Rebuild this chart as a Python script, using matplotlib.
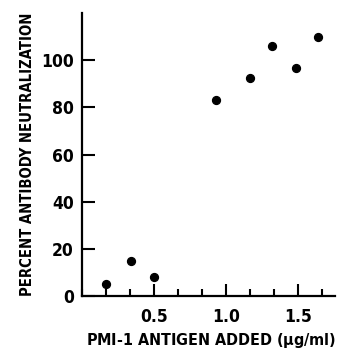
import matplotlib
matplotlib.use("Agg")
import matplotlib.pyplot as plt
from matplotlib import font_manager as fm
from matplotlib.ticker import MultipleLocator

# pick a narrow face if one is installed
fonts = fm.fontManager.ttflist
if any(f.name == 'Liberation Sans Narrow' for f in fonts):
    family, stretch = 'Liberation Sans Narrow', 'normal'
elif any(f.name == 'DejaVu Sans' and f.stretch == 'condensed' for f in fonts):
    family, stretch = 'DejaVu Sans', 'condensed'
else:
    family, stretch = 'DejaVu Sans', 'normal'
plt.rcParams['font.family'] = [family, 'DejaVu Sans']
plt.rcParams['font.stretch'] = stretch
plt.rcParams['font.weight'] = 'bold'
plt.rcParams['axes.labelweight'] = 'bold'
plt.rcParams['mathtext.default'] = 'regular'

# antigen added (ug/ml) vs percent antibody neutralization
antigen = [0.17, 0.34, 0.50, 0.93, 1.17, 1.32, 1.49, 1.64]
neutralization = [5, 15, 8, 83, 92.5, 106, 96.5, 110]

yticks = [0, 20, 40, 60, 80, 100]
xticks = [0.5, 1.0, 1.5]
xticklabels = ['0.5', '1.0', '1.5']

fig = plt.figure(figsize=(3.47, 3.5), dpi=100)
ax = fig.add_axes([82/347, 54/350, 253/347, 283/350])

ax.scatter(antigen, neutralization, s=32, color='black', zorder=3, clip_on=False)

ax.set_xlim(0, 1.76)
ax.set_ylim(0, 120)

for s in ['top', 'right']:
    ax.spines[s].set_visible(False)
for s in ['left', 'bottom']:
    ax.spines[s].set_linewidth(1.6)

ax.set_yticks(yticks)
ax.set_xticks(xticks)
ax.set_xticklabels(xticklabels)
ax.xaxis.set_minor_locator(MultipleLocator(1/6))
ax.tick_params(axis='both', which='major', direction='in', length=9, width=1.5,
               labelsize=12.5, pad=6)
ax.tick_params(axis='x', which='major', pad=9)
ax.tick_params(axis='x', which='minor', direction='in', length=5, width=1.5)

ylab = ax.set_ylabel('PERCENT ANTIBODY NEUTRALIZATION', fontsize=12, va='center')
ax.yaxis.set_label_coords(-0.215, 0.5)
xlab = ax.set_xlabel(r'PMI-1 ANTIGEN ADDED ($\mu$g/ml)', fontsize=12, va='center')
ax.xaxis.set_label_coords(0.51, -0.158)

# size the axis titles to the reference lengths
fig.canvas.draw()
r = fig.canvas.get_renderer()
bb = ylab.get_window_extent(r)
ylab.set_fontsize(min(13, ylab.get_fontsize() * 284 / bb.height))
bb = xlab.get_window_extent(r)
xlab.set_fontsize(min(13, xlab.get_fontsize() * 250 / bb.width))

fig.savefig('out.png', dpi=100)
